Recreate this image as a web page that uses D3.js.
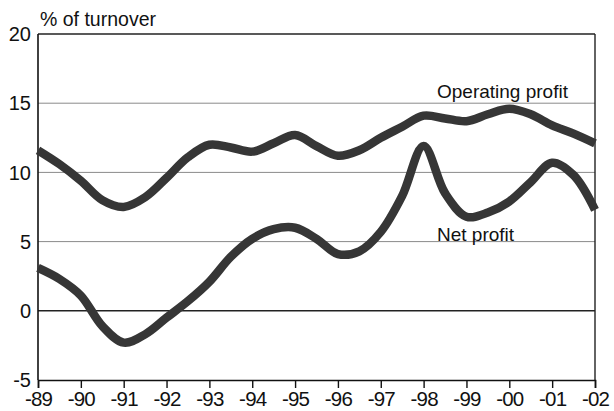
<!DOCTYPE html>
<html>
<head>
<meta charset="utf-8">
<script src="https://cdn.jsdelivr.net/npm/d3@7"></script>
<style>
  html, body { margin: 0; padding: 0; background: #fff; }
  svg { display: block; font-family: "Liberation Sans", Arial, sans-serif; }
</style>
</head>
<body>
<div id="chart"></div>
<script>
// sample points every half year
const years = [1989, 1989.5, 1990, 1990.5, 1991, 1991.5, 1992, 1992.5, 1993, 1993.5,
  1994, 1994.5, 1995, 1995.5, 1996, 1996.5, 1997, 1997.5, 1998, 1998.5,
  1999, 1999.5, 2000, 2000.5, 2001, 2001.5, 2002];

const operatingProfit = [11.6, 10.6, 9.4, 8.0, 7.5, 8.2, 9.6, 11.1, 12.0, 11.8,
  11.5, 12.1, 12.7, 11.9, 11.2, 11.6, 12.5, 13.3, 14.1, 13.9,
  13.7, 14.2, 14.6, 14.2, 13.4, 12.8, 12.1];

const netProfit = [3.1, 2.3, 1.1, -1.1, -2.3, -1.7, -0.5, 0.7, 2.1, 3.9,
  5.2, 5.9, 6.0, 5.2, 4.1, 4.3, 5.7, 8.3, 11.9, 8.5,
  6.8, 7.1, 7.9, 9.3, 10.7, 9.8, 7.3];

const tickYears = [1989, 1990, 1991, 1992, 1993, 1994, 1995, 1996, 1997, 1998, 1999, 2000, 2001, 2002];
const tickLabels = ["-89", "-90", "-91", "-92", "-93", "-94", "-95", "-96", "-97", "-98", "-99", "-00", "-01", "-02"];
const yTicks = [-5, 0, 5, 10, 15, 20];

const width = 614;
const height = 411;

const svg = d3.select("#chart")
  .append("svg")
  .attr("width", width)
  .attr("height", height);

const x = d3.scaleLinear().domain([1989, 2002]).range([38, 595]);
const y = d3.scaleLinear().domain([-5, 20]).range([380, 34]);

// horizontal grid lines
svg.append("g")
  .selectAll("line")
  .data(yTicks.filter((d) => d !== -5))
  .enter()
  .append("line")
  .attr("x1", x(1989))
  .attr("x2", x(2002))
  .attr("y1", (d) => y(d))
  .attr("y2", (d) => y(d))
  .attr("stroke", (d) => (d === 0 || d === 20 ? "#222" : "#8a8a8a"))
  .attr("stroke-width", (d) => (d === 0 || d === 20 ? 1.4 : 1));

// right border
svg.append("line")
  .attr("x1", x(2002)).attr("x2", x(2002))
  .attr("y1", y(20)).attr("y2", y(-5))
  .attr("stroke", "#222").attr("stroke-width", 1.4);

// left axis line + labels
svg.append("line")
  .attr("x1", x(1989)).attr("x2", x(1989))
  .attr("y1", y(20)).attr("y2", y(-5))
  .attr("stroke", "#111").attr("stroke-width", 1.6);

svg.append("g")
  .selectAll("text")
  .data(yTicks)
  .enter()
  .append("text")
  .attr("x", 31)
  .attr("y", (d) => y(d))
  .attr("dy", "0.36em")
  .attr("text-anchor", "end")
  .attr("font-size", 20)
  .attr("fill", "#111")
  .text((d) => d);

// bottom axis
const xAxis = d3.axisBottom(x)
  .tickValues(tickYears)
  .tickSize(8)
  .tickPadding(3)
  .tickFormat((d, i) => tickLabels[i]);

const gx = svg.append("g")
  .attr("transform", `translate(0,${y(-5)})`)
  .call(xAxis);

gx.select(".domain").attr("stroke", "#111").attr("stroke-width", 1.6);
gx.selectAll(".tick line").attr("stroke", "#111").attr("stroke-width", 1.4);
gx.selectAll(".tick text")
  .attr("font-family", "Liberation Sans, Arial, sans-serif")
  .attr("font-size", 20.5)
  .attr("letter-spacing", "-0.8px")
  .attr("fill", "#111");

// lines
const line = d3.line()
  .x((d) => x(d[0]))
  .y((d) => y(d[1]))
  .curve(d3.curveCatmullRom.alpha(0.5));

[operatingProfit, netProfit].forEach((series) => {
  svg.append("path")
    .datum(years.map((yr, i) => [yr, series[i]]))
    .attr("fill", "none")
    .attr("stroke", "#363636")
    .attr("stroke-width", 8.5)
    .attr("stroke-linejoin", "round")
    .attr("d", line);
});

// labels
svg.append("text")
  .attr("x", 40)
  .attr("y", 26)
  .attr("font-size", 19.5)
  .attr("fill", "#111")
  .text("% of turnover");

svg.append("text")
  .attr("x", 437)
  .attr("y", 98)
  .attr("font-size", 19)
  .attr("fill", "#111")
  .text("Operating profit");

svg.append("text")
  .attr("x", 437)
  .attr("y", 241)
  .attr("font-size", 19)
  .attr("fill", "#111")
  .text("Net profit");
</script>
</body>
</html>
